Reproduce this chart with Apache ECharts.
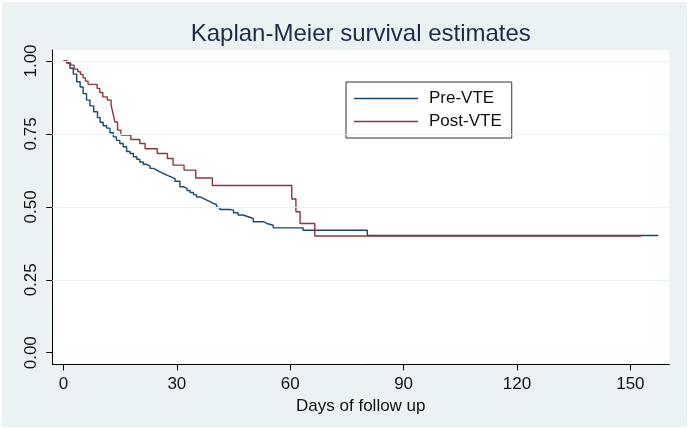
<!DOCTYPE html>
<html><head><meta charset="utf-8">
<script src="https://cdn.jsdelivr.net/npm/echarts@6/dist/echarts.min.js"></script>
<style>
html,body{margin:0;padding:0;background:#fff;}
#bg{position:absolute;left:2px;top:2px;width:685px;height:425px;background:#eaf2f3;}
#chart{position:absolute;left:0;top:0;width:689px;height:430px;}
</style></head><body>
<div id="bg"></div><div id="chart"></div>
<script>
// ---- data ----
const seriesNames = ['Pre-VTE', 'Post-VTE'];
const preDays = [0, 0.8, 1.7, 2.6, 3.5, 4.4, 5.2, 6.1, 7.0, 8.0, 9.0, 9.7, 10.5, 11.4, 12.3, 13.2, 14.0, 14.9, 15.8, 16.7, 17.6, 18.5, 19.4, 20.2, 21.1, 22.0, 22.9, 23.8, 24.7, 25.5, 26.5, 27.5, 28.6, 29.5, 30.8, 31.7, 32.7, 33.5, 34.4, 35.2, 36.1, 37.0, 37.9, 38.8, 39.6, 40.5, 41.4, 44.0, 45.0, 46.2, 47.5, 48.9, 50.2, 52.9, 53.8, 55.5, 63.4, 80.4, 157.4];
const preSurv = [1.0, 0.993, 0.975, 0.955, 0.929, 0.911, 0.888, 0.866, 0.846, 0.826, 0.806, 0.790, 0.778, 0.770, 0.754, 0.740, 0.728, 0.717, 0.706, 0.690, 0.683, 0.672, 0.663, 0.654, 0.646, 0.640, 0.632, 0.626, 0.620, 0.614, 0.608, 0.602, 0.597, 0.588, 0.569, 0.563, 0.556, 0.549, 0.542, 0.534, 0.529, 0.523, 0.518, 0.512, 0.508, 0.498, 0.491, 0.489, 0.480, 0.472, 0.466, 0.460, 0.449, 0.443, 0.437, 0.428, 0.420, 0.402, 0.402];
const postDays = [0, 1.2, 1.9, 2.8, 3.8, 4.5, 5.2, 5.8, 6.5, 8.9, 9.6, 10.4, 11.6, 12.6, 13.1, 13.6, 14.3, 15.2, 17.8, 20.2, 21.6, 24.8, 27.5, 29.0, 31.9, 35.0, 39.4, 60.4, 61.5, 62.6, 66.5, 152.8];
const postSurv = [1.0, 0.993, 0.986, 0.972, 0.963, 0.954, 0.942, 0.931, 0.920, 0.906, 0.892, 0.877, 0.866, 0.849, 0.820, 0.791, 0.763, 0.746, 0.731, 0.717, 0.699, 0.683, 0.666, 0.643, 0.626, 0.599, 0.573, 0.527, 0.483, 0.443, 0.400, 0.400];
const xTicks = [0, 30, 60, 90, 120, 150];
const yTicks = [0, 0.25, 0.50, 0.75, 1.00];
const titleText = 'Kaplan-Meier survival estimates';
const xAxisTitle = 'Days of follow up';

// ---- layout ----
const plot = {left: 52.3, right: 669.3, top: 50, bottom: 364.3};
const xRange = [-2.96, 160.3];
const yRange = [-0.0397, 1.0377];
const FONT = '"Liberation Sans", Arial, sans-serif';
const colors = ['#1a476f', '#90353b'];
const pw = plot.right - plot.left, ph = plot.bottom - plot.top;

const zip = (a, b) => a.map((v, i) => [v, b[i]]);

const chart = echarts.init(document.getElementById('chart'), null, {renderer: 'canvas'});
chart.setOption({
  animation: false,
  backgroundColor: 'transparent',
  textStyle: {fontFamily: FONT},
  graphic: [{
    type: 'text', x: (plot.left + plot.right) / 2, y: 34,
    style: {text: titleText, fill: '#1c2b4a', font: '24px ' + FONT, textAlign: 'center', textVerticalAlign: 'middle'}
  }],
  legend: {
    data: seriesNames,
    orient: 'vertical', left: 346, top: 82,
    padding: [8, 10, 8, 8], itemGap: 6, itemWidth: 64, itemHeight: 1.4,
    icon: 'rect',
    backgroundColor: '#fff', borderColor: '#333', borderWidth: 1,
    selectedMode: false,
    textStyle: {fontSize: 17, lineHeight: 17, color: '#111', fontFamily: FONT, padding: [0, 0, 0, 6]}
  },
  grid: [
    {left: plot.left, top: plot.top, width: pw, height: ph, show: true, backgroundColor: '#fff', borderWidth: 0, containLabel: false}
  ],
  xAxis: [
    {type: 'value', min: xRange[0], max: xRange[1],
     axisLine: {show: true, onZero: false, lineStyle: {color: '#000', width: 1}},
     axisTick: {show: true, length: 6, customValues: xTicks, lineStyle: {color: '#000', width: 1}},
     axisLabel: {show: true, customValues: xTicks, margin: 12, fontSize: 17, color: '#111', fontFamily: FONT},
     splitLine: {show: false},
     name: xAxisTitle, nameLocation: 'middle', nameGap: 30,
     nameTextStyle: {fontSize: 17, color: '#111', fontFamily: FONT}}
  ],
  yAxis: [
    {type: 'value', min: yRange[0], max: yRange[1],
     axisLine: {show: true, onZero: false, lineStyle: {color: '#000', width: 1}},
     axisTick: {show: true, length: 6, customValues: yTicks, lineStyle: {color: '#000', width: 1}},
     axisLabel: {show: true, customValues: yTicks, margin: 12, rotate: 90, fontSize: 17, color: '#111', fontFamily: FONT,
                 formatter: v => v.toFixed(2)},
     splitLine: {show: false}}
  ],
  series: [
    {name: seriesNames[0], type: 'line', step: 'end',
     symbol: 'none', showSymbol: false, data: zip(preDays, preSurv), z: 3,
     lineStyle: {color: colors[0], width: 1.4}, itemStyle: {color: colors[0]},
     markLine: {silent: true, symbol: ['none', 'none'], label: {show: false}, animation: false,
       lineStyle: {color: '#eaf2f3', type: 'solid', width: 1},
       data: yTicks.filter(v => v > yTicks[0]).map(v => ({yAxis: v}))}},
    {name: seriesNames[1], type: 'line', step: 'end',
     symbol: 'none', showSymbol: false, data: zip(postDays, postSurv), z: 4,
     lineStyle: {color: colors[1], width: 1.4}, itemStyle: {color: colors[1]}}
  ]
});
</script>
</body></html>
